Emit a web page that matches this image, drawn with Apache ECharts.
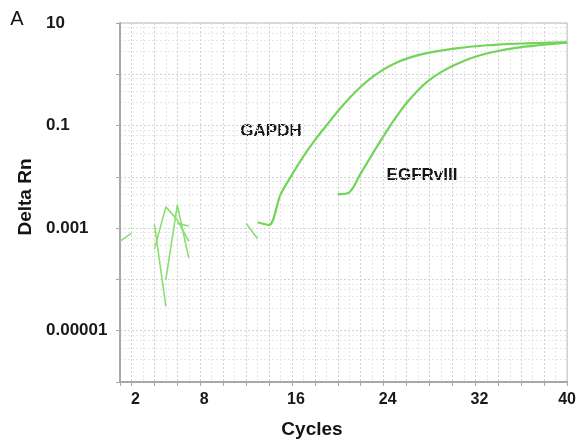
<!DOCTYPE html>
<html>
<head>
<meta charset="utf-8">
<script src="https://cdn.jsdelivr.net/npm/echarts@6/dist/echarts.min.js"></script>
<style>
  html, body { margin: 0; padding: 0; background: #fff; }
  #main { width: 579px; height: 442px; }
</style>
</head>
<body>
<div id="main"></div>
<script>
// amplification curves (cycle -> Delta Rn)
var gapdhCycles = [13, 14, 15, 16, 17, 18, 19, 20, 21, 22, 23, 24, 25, 26, 27, 28, 29, 30, 31, 32, 33, 34, 35, 36, 37, 38, 39, 40];
var gapdhDeltaRn = [0.0013, 0.00115, 0.0045, 0.011, 0.025, 0.052, 0.10, 0.19, 0.34, 0.57, 0.88, 1.25, 1.65, 2.02, 2.36, 2.65, 2.9, 3.12, 3.33, 3.52, 3.68, 3.8, 3.9, 3.98, 4.05, 4.1, 4.15, 4.2];

var egfrCycles = [20, 21, 22, 23, 24, 25, 26, 27, 28, 29, 30, 31, 32, 33, 34, 35, 36, 37, 38, 39, 40];
var egfrDeltaRn = [0.0046, 0.005, 0.0117, 0.0275, 0.063, 0.138, 0.275, 0.49, 0.776, 1.1, 1.45, 1.82, 2.19, 2.54, 2.85, 3.13, 3.39, 3.59, 3.78, 3.96, 4.12];

// baseline noise fragments
var noiseA = [[1, 0.00055], [2, 0.0008]];
var noiseB = [[4, 0.0012], [5, 0.00003]];
var noiseC = [[4, 0.00039], [5, 0.0026], [6, 0.00145], [7, 0.00055]];
var noiseD = [[5, 0.0001], [6, 0.0028], [7, 0.00026]];
var noiseE = [[6, 0.00125], [7, 0.0011]];
var noiseF = [[12, 0.00125], [13, 0.00062]];

var xTickLabels = [2, 8, 16, 24, 32, 40];
var yLabelExponents = [1, -1, -3, -5];
var yTickLabels = ['10', '0.1', '0.001', '0.00001'];

var font = "'Liberation Sans', Arial, sans-serif";
var green = '#72d45a';

function pairs(xs, ys) {
  return xs.map(function (x, i) { return [x, ys[i]]; });
}

function label(x, y, text, size, extra) {
  var el = {
    type: 'text', x: x, y: y,
    style: {
      text: text,
      font: size + 'px ' + font,
      fill: '#141414',
      align: 'center', verticalAlign: 'middle',
      textAlign: 'center', textVerticalAlign: 'middle'
    }
  };
  return Object.assign(el, extra || {});
}

var noiseSeries = [noiseA, noiseB, noiseC, noiseD, noiseE, noiseF].map(function (d) {
  return {
    type: 'line',
    data: d,
    showSymbol: false,
    silent: true,
    lineStyle: { color: '#8adf72', width: 1.6 }
  };
});

var option = {
  animation: false,
  grid: {
    left: 120, right: 11, top: 23, bottom: 60,
    show: true, borderColor: '#b8b8b8', borderWidth: 1
  },
  xAxis: {
    type: 'value',
    min: 1,
    max: 40,
    splitNumber: 20,
    axisLine: { show: true, onZero: false, lineStyle: { color: '#a8a8a8', width: 2 } },
    axisTick: { show: true, length: 4, lineStyle: { color: '#a8a8a8' } },
    axisLabel: {
      margin: 10,
      color: '#1a1a1a',
      fontFamily: font,
      fontSize: 16,
      fontWeight: 'bold',
      formatter: function (v) {
        if (xTickLabels.indexOf(v) < 0) return '';
        return v === 40 ? '{e|' + v + '}' : '{s|' + v + '}';
      },
      rich: {
        s: { padding: [0, 0, 0, 8], fontSize: 16, fontWeight: 'bold', fontFamily: font, color: '#1a1a1a' },
        e: { padding: [0, 0, 0, 0], fontSize: 16, fontWeight: 'bold', fontFamily: font, color: '#1a1a1a' }
      }
    },
    splitLine: { show: true, lineStyle: { color: '#d2d2d2', type: [2, 2] } },
    minorTick: { show: false, splitNumber: 2 },
    minorSplitLine: { show: true, lineStyle: { color: '#e6e6e6', type: [2, 2] } }
  },
  yAxis: {
    type: 'log',
    logBase: 10,
    min: 1e-6,
    max: 10,
    splitNumber: 7,
    axisLine: { show: true, lineStyle: { color: '#a8a8a8', width: 2 } },
    axisTick: { show: true, length: 4, lineStyle: { color: '#a8a8a8' } },
    axisLabel: {
      align: 'left',
      margin: 74,
      color: '#1a1a1a',
      fontFamily: font,
      fontSize: 17,
      fontWeight: 'bold',
      formatter: function (v) {
        var e = Math.round(Math.log10(v));
        var i = yLabelExponents.indexOf(e);
        return i < 0 ? '' : yTickLabels[i];
      }
    },
    splitLine: { show: true, lineStyle: { color: '#d2d2d2', type: [2, 2] } },
    minorTick: { show: false, splitNumber: 5 },
    minorSplitLine: { show: true, lineStyle: { color: '#e6e6e6', type: [2, 2] } }
  },
  series: [
    {
      name: 'GAPDH',
      type: 'line',
      data: pairs(gapdhCycles, gapdhDeltaRn),
      showSymbol: false,
      smooth: 0.3,
      lineStyle: { color: green, width: 2.2 }
    },
    {
      name: 'EGFRvIII',
      type: 'line',
      data: pairs(egfrCycles, egfrDeltaRn),
      showSymbol: false,
      smooth: 0.3,
      lineStyle: { color: green, width: 2.2 }
    }
  ].concat(noiseSeries),
  graphic: [
    label(17, 19, 'A', 20),
    label(271, 131, 'GAPDH', 'bold 17'),
    label(422, 175, 'EGFRvIII', 'bold 17'),
    label(312, 430, 'Cycles', 'bold 19'),
    label(26, 197, 'Delta Rn', 'bold 19', { rotation: Math.PI / 2 })
  ]
};

var chart = echarts.init(document.getElementById('main'));
chart.setOption(option);
</script>
</body>
</html>
